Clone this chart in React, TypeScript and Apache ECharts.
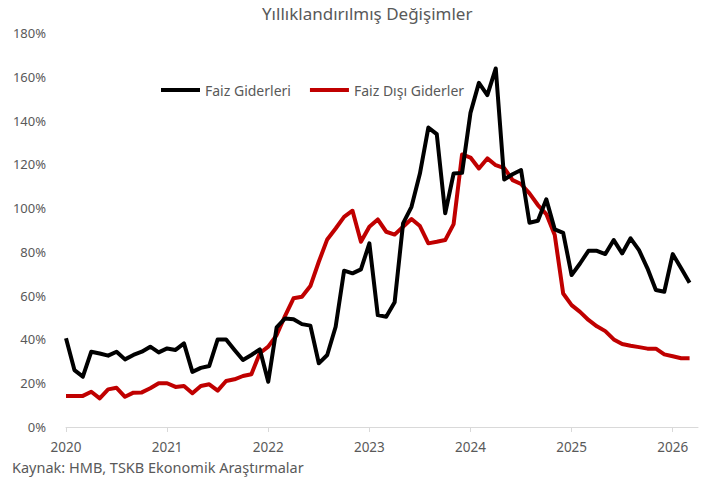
import React, { useEffect, useRef } from "react";
import * as echarts from "echarts";

const startYear = 2020;
const monthCount = 76;
const months: string[] = Array.from({ length: monthCount }, (_, i) => {
  const y = startYear + Math.floor(i / 12);
  const m = (i % 12) + 1;
  return `${y}-${m < 10 ? "0" + m : m}`;
});

const faizGiderleri = [
  40.5, 26, 23, 34.4, 33.6, 32.6, 34.4, 30.9, 32.9, 34.4, 36.7, 34.1,
  35.9, 35.2, 38.2, 25.2, 27, 27.9, 40, 40, 35.2, 30.6, 32.9, 35.5,
  20.7, 45.5, 49.6, 49.2, 47, 46.3, 29.1, 32.9, 45.8, 71.4, 70.2, 72,
  83.9, 51.1, 50.4, 57, 93, 100.6, 115.8, 136.8, 133.8, 97.6, 115.8, 116.1,
  143.5, 157.2, 151.6, 163.8, 113.1, 115.5, 117.4, 93.3, 94.2, 104, 90.3, 88.7,
  69.4, 74.7, 80.5, 80.5, 79, 85.4, 79.3, 86.2, 80.8, 72.5, 62.6, 61.8,
  79, 72.5, 65.9,
];

const faizDisiGiderler = [
  14.2, 14.2, 14.2, 16.1, 13.1, 17.2, 17.9, 13.8, 15.7, 15.8, 17.7, 20,
  20, 18.3, 18.7, 15.4, 18.7, 19.5, 16.6, 21, 21.8, 23.3, 24.1, 33.7,
  36.7, 42, 50.8, 58.8, 59.5, 64.4, 75.5, 85.7, 90.7, 96, 98.8, 84.6,
  91.5, 94.8, 89.2, 87.9, 91.5, 95, 91.8, 83.9, 84.6, 85.4, 92.7, 124.5,
  123.1, 118.1, 122.7, 119.6, 118.3, 112.8, 111, 106.7, 101.4, 97.3, 87.7, 61,
  55.7, 52.6, 48.9, 46, 43.8, 40, 37.9, 37.1, 36.5, 35.8, 35.8, 33.2,
  32.3, 31.4, 31.4,
];

const titleText = "Yıllıklandırılmış Değişimler";
const sourceText = "Kaynak: HMB, TSKB Ekonomik Araştırmalar";
const seriesNames = ["Faiz Giderleri", "Faiz Dışı Giderler"];

const FONT = '"Noto Sans", sans-serif';
const GRAY = "#595959";

export default function App() {
  const ref = useRef<HTMLDivElement>(null);
  useEffect(() => {
    document.body.style.margin = "0";
    if (!ref.current) return;
    const chart = echarts.init(ref.current, null, { renderer: "svg" });
    chart.setOption({
      animation: false,
      textStyle: { fontFamily: FONT },
      grid: { left: 66, right: 15, top: 33, bottom: 57, containLabel: false },
      legend: {
        data: seriesNames,
        left: 156,
        top: 78,
        icon: "rect",
        itemWidth: 39,
        itemHeight: 4,
        itemGap: 19,
        textStyle: { color: GRAY, fontSize: 14, fontFamily: FONT },
      },
      xAxis: {
        type: "category",
        data: months,
        boundaryGap: false,
        axisLine: { lineStyle: { color: "#d9d9d9", width: 1 } },
        axisTick: {
          length: 5,
          lineStyle: { color: "#d9d9d9" },
          interval: (i: number) => i % 12 === 0,
        },
        axisLabel: {
          interval: (i: number) => i % 12 === 0,
          formatter: (v: string) => v.slice(0, 4),
          color: GRAY,
          fontSize: 13.5,
          margin: 13,
          fontFamily: FONT,
        },
        splitLine: { show: false },
      },
      yAxis: {
        type: "value",
        min: 0,
        max: 180,
        interval: 20,
        axisLine: { show: false },
        axisTick: { show: false },
        splitLine: { show: false },
        axisLabel: {
          formatter: (v: number) => `${v}%`,
          color: GRAY,
          fontSize: 13,
          margin: 20,
          fontFamily: FONT,
        },
      },
      series: [
        {
          name: seriesNames[0],
          type: "line",
          data: faizGiderleri,
          showSymbol: false,
          symbol: "none",
          lineStyle: { color: "#000000", width: 4, join: "round" },
          itemStyle: { color: "#000000" },
          z: 3,
        },
        {
          name: seriesNames[1],
          type: "line",
          data: faizDisiGiderler,
          showSymbol: false,
          symbol: "none",
          lineStyle: { color: "#C00000", width: 4, join: "round" },
          itemStyle: { color: "#C00000" },
          z: 2,
        },
      ],
      graphic: [
        {
          type: "text",
          left: 262,
          top: 5,
          style: {
            text: titleText,
            fill: GRAY,
            fontSize: 17,
            fontFamily: FONT,
          },
        },
        {
          type: "text",
          left: 12,
          top: 459,
          style: {
            text: sourceText,
            fill: GRAY,
            fontSize: 14.5,
            fontFamily: FONT,
          },
        },
      ],
    });
    return () => chart.dispose();
  }, []);
  return <div ref={ref} style={{ width: 713, height: 484 }} />;
}
